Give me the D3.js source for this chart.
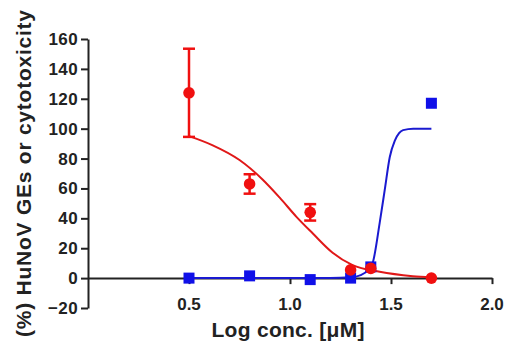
<!DOCTYPE html>
<html><head><meta charset="utf-8">
<script src="https://cdn.jsdelivr.net/npm/d3@7"></script>
<style>
body{margin:0;background:#fff;}
svg text{font-family:"Liberation Sans",Arial,sans-serif;font-weight:bold;fill:#222;}
</style></head>
<body><svg id="c" width="510" height="341"></svg>
<script>
// Data
const doseX = [0.5, 0.8, 1.1, 1.3, 1.4, 1.7];
const redY = [124, 63, 44, 5.5, 6.5, 0];
const redErr = [29.5, 6.5, 5.5, 0, 0, 0];
const blueY = [0, 1.5, -1, 0, 7.5, 117];
// fitted curves
const redCurveX = [0.5, 0.615, 0.75, 0.864, 0.948, 1.032, 1.112, 1.211, 1.31, 1.444, 1.608, 1.70];
const redCurveY = [95, 89, 79, 66, 54, 41, 30, 17, 8.7, 4.2, 1.3, 0.5];
const blueCurveX = [0.5, 1.2, 1.3, 1.35, 1.39, 1.411, 1.444, 1.469, 1.494, 1.519, 1.54, 1.56, 1.61, 1.70];
const blueCurveY = [0, 0, 0.5, 2, 6, 11, 37, 59, 81, 92, 97, 99, 100, 100];
const yTicks = [-20, 0, 20, 40, 60, 80, 100, 120, 140, 160];
const xTicks = [0.5, 1.0, 1.5, 2.0];
const xTitle = "Log conc. [μM]";
const yTitle = "(%) HuNoV GEs or cytotoxicity";

const svg = d3.select("#c");
const x = d3.scaleLinear().domain([0, 2]).range([88, 492]);
const y = d3.scaleLinear().domain([-20, 160]).range([308, 39]);
const RED = "#f01010", BLUE = "#1010e8", AX = "#222";

// Y axis
const ya = svg.append("g").attr("transform", `translate(${x(0)},0)`)
  .call(d3.axisLeft(y).tickValues(yTicks).tickSize(7).tickSizeOuter(0).tickPadding(3));
ya.select(".domain").attr("stroke", AX).attr("stroke-width", 2);
ya.selectAll(".tick line").attr("stroke", AX).attr("stroke-width", 2);
ya.selectAll(".tick text").style("font-size", "17px").attr("fill", AX)
  .style("font-family", "'Liberation Sans',Arial,sans-serif").style("font-weight", "bold")
  .style("letter-spacing", "0.4px");

// X axis line at y=0
const xa = svg.append("g").attr("transform", `translate(0,${y(0)})`)
  .call(d3.axisBottom(x).tickValues(xTicks).tickSize(6).tickSizeOuter(0).tickFormat(""));
xa.select(".domain").attr("stroke", AX).attr("stroke-width", 2);
xa.selectAll(".tick line").attr("stroke", AX).attr("stroke-width", 2);
svg.append("g").selectAll("text").data(xTicks).join("text")
  .attr("x", d => x(d)).attr("y", y(-20) - 4).attr("dy", "0.35em")
  .attr("text-anchor", "middle").style("font-size", "17px")
  .text(d => d3.format(".1f")(d));

// Titles
svg.append("text").attr("x", 288).attr("y", 337)
  .attr("text-anchor", "middle").style("font-size", "21px")
  .attr("textLength", 153).attr("lengthAdjust", "spacing").text(xTitle);
svg.append("text").attr("transform", "translate(31,173.5) rotate(-90)")
  .attr("text-anchor", "middle").style("font-size", "21px")
  .attr("textLength", 327).attr("lengthAdjust", "spacing").text(yTitle);

// Curves
const line = d3.line().x(d => x(d[0])).y(d => y(d[1])).curve(d3.curveMonotoneX);
svg.append("path").datum(blueCurveX.map((v, i) => [v, blueCurveY[i]]))
  .attr("d", line).attr("fill", "none").attr("stroke", "#1a1ad0").attr("stroke-width", 2);
svg.append("path").datum(redCurveX.map((v, i) => [v, redCurveY[i]]))
  .attr("d", line).attr("fill", "none").attr("stroke", "#e01818").attr("stroke-width", 2);

// Blue squares
const s = 11;
svg.append("g").selectAll("rect").data(doseX.map((v, i) => [v, blueY[i]])).join("rect")
  .attr("x", d => x(d[0]) - s / 2).attr("y", d => y(d[1]) - s / 2)
  .attr("width", s).attr("height", s).attr("fill", BLUE);

// Red error bars
const eg = svg.append("g").attr("stroke", RED).attr("stroke-width", 2.5);
doseX.forEach((v, i) => {
  if (!redErr[i]) return;
  const cx = x(v), y1 = y(redY[i] + redErr[i]), y2 = y(redY[i] - redErr[i]);
  eg.append("line").attr("x1", cx).attr("x2", cx).attr("y1", y1).attr("y2", y2);
  eg.append("line").attr("x1", cx - 6).attr("x2", cx + 6).attr("y1", y1).attr("y2", y1);
  eg.append("line").attr("x1", cx - 6).attr("x2", cx + 6).attr("y1", y2).attr("y2", y2);
});
// Red circles
svg.append("g").selectAll("circle").data(doseX.map((v, i) => [v, redY[i]])).join("circle")
  .attr("cx", d => x(d[0])).attr("cy", d => y(d[1])).attr("r", 5.8).attr("fill", RED);
</script></body></html>
